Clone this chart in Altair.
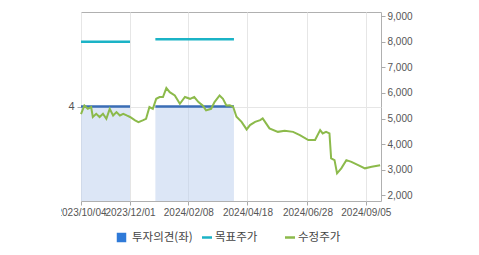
import altair as alt
import pandas as pd

# ---- data ----
price_dates = [
    "2023-10-04", "2023-10-08", "2023-10-12", "2023-10-16", "2023-10-18", "2023-10-22",
    "2023-10-26", "2023-10-30", "2023-11-03", "2023-11-07", "2023-11-11", "2023-11-15",
    "2023-11-19", "2023-11-23", "2023-11-27", "2023-12-01", "2023-12-07", "2023-12-11",
    "2023-12-16", "2023-12-20", "2023-12-24", "2023-12-28", "2024-01-01", "2024-01-05",
    "2024-01-09", "2024-01-13", "2024-01-17", "2024-01-23", "2024-01-29", "2024-02-04",
    "2024-02-10", "2024-02-15", "2024-02-20", "2024-02-25", "2024-02-29", "2024-03-06",
    "2024-03-10", "2024-03-16", "2024-03-20", "2024-03-24", "2024-03-28", "2024-04-01",
    "2024-04-05", "2024-04-11", "2024-04-17", "2024-04-21", "2024-04-27", "2024-05-03",
    "2024-05-06", "2024-05-14", "2024-05-24", "2024-06-01", "2024-06-11", "2024-06-19",
    "2024-06-29", "2024-07-07", "2024-07-13", "2024-07-16", "2024-07-20", "2024-07-24",
    "2024-07-26", "2024-07-30", "2024-08-02", "2024-08-07", "2024-08-13", "2024-08-19",
    "2024-08-27", "2024-09-04", "2024-09-12", "2024-09-22",
]
price_values = [
    5170, 5510, 5380, 5450, 5060, 5185,
    5060, 5185, 4990, 5380, 5120, 5250,
    5120, 5185, 5120, 5060, 4930, 4860,
    4930, 4990, 5450, 5380, 5770, 5840,
    5840, 6190, 6030, 5900, 5575, 5840,
    5770, 5840, 5640, 5510, 5320, 5380,
    5640, 5900, 5770, 5510, 5520, 5460,
    5070, 4870, 4575, 4745, 4870, 4940,
    5005, 4615, 4480, 4520, 4480, 4355,
    4160, 4160, 4550, 4420, 4480, 4420,
    3445, 3375, 2860, 3055, 3375, 3310,
    3180, 3055, 3115, 3180,
]

seg_start = ["2023-10-04", "2023-12-31"]
seg_end = ["2023-12-01", "2024-04-02"]
opinion = [4, 4]
target_price = [8000, 8100]

tick_dates = ["2023-10-04", "2023-12-01", "2024-02-08", "2024-04-18", "2024-06-28", "2024-09-05"]
end_date = "2024-09-23"
price_ticks = [2000, 3000, 4000, 5000, 6000, 7000, 8000, 9000]
opinion_ticks = [4]

legend_labels = ["투자의견(좌)", "목표주가", "수정주가"]

# ---- tables ----
price_df = pd.DataFrame({"date": pd.to_datetime(price_dates), "price": price_values})
seg_df = pd.DataFrame({
    "start": pd.to_datetime(seg_start),
    "end": pd.to_datetime(seg_end),
    "opinion": opinion,
    "target": target_price,
    "zero": [0] * len(opinion),
})
dummy = pd.DataFrame({"a": [0]})


def dt(s):
    t = pd.Timestamp(s)
    return alt.DateTime(year=t.year, month=t.month, date=t.day)


LABEL_FONT = "Liberation Sans"
x_scale = alt.Scale(domain=[dt(tick_dates[0]), dt(end_date)], nice=False)
x_axis = alt.Axis(
    values=[dt(d) for d in tick_dates], format="%Y/%m/%d", title=None,
    labelFont=LABEL_FONT, labelFontSize=10, labelColor="#555555",
    tickColor="#aaaaaa", tickSize=4, domain=False, grid=True, gridColor="#e6e6e6",
    labelPadding=2, labelFlush=False, labelOverlap=False,
)

left_scale = alt.Scale(domain=[0, 8], nice=False, zero=False)
left_axis = alt.Axis(
    orient="left", values=opinion_ticks, title=None, grid=True, gridColor="#e6e6e6",
    domain=False, tickSize=4, tickColor="#aaaaaa", labelColor="#555555",
    labelFont=LABEL_FONT, labelFontSize=11, labelPadding=3,
)
right_scale = alt.Scale(domain=[1780, 9160], nice=False, zero=False)
right_axis = alt.Axis(
    orient="right", values=price_ticks, title=None, grid=False,
    labelExpr="format(datum.value, ',')",
    domain=False, tickSize=4, tickColor="#aaaaaa", labelColor="#555555",
    labelFont=LABEL_FONT, labelFontSize=10, labelPadding=2,
)

area = alt.Chart(seg_df).mark_rect(color="#b9cded", opacity=0.5).encode(
    x=alt.X("start:T", scale=x_scale, axis=x_axis),
    x2="end:T",
    y=alt.Y("zero:Q", scale=left_scale, axis=left_axis),
    y2="opinion:Q",
)
op_line = alt.Chart(seg_df).mark_rule(color="#3a6db5", strokeWidth=2.5).encode(
    x=alt.X("start:T", scale=x_scale, axis=x_axis),
    x2="end:T",
    y=alt.Y("opinion:Q", scale=left_scale, axis=left_axis),
)
left_group = alt.layer(area, op_line)

target_line = alt.Chart(seg_df).mark_rule(color="#1bb3c6", strokeWidth=2.5).encode(
    x=alt.X("start:T", scale=x_scale, axis=x_axis),
    x2="end:T",
    y=alt.Y("target:Q", scale=right_scale, axis=right_axis),
)
price_line = alt.Chart(price_df).mark_line(color="#8cba4b", strokeWidth=2).encode(
    x=alt.X("date:T", scale=x_scale, axis=x_axis),
    y=alt.Y("price:Q", scale=right_scale, axis=right_axis),
)
right_group = alt.layer(target_line, price_line)

# white cover clipping the first x label like the reference
cover = alt.Chart(dummy).mark_rect(color="white").encode(
    x=alt.value(-81), x2=alt.value(-20), y=alt.value(192), y2=alt.value(212)
)

LY = 225.5
text_style = dict(align="left", baseline="middle", font="Noto Sans CJK KR", fontSize=11.5, color="#444444")
leg_sq = alt.Chart(dummy).mark_square(size=90, color="#2f7ad8", opacity=1).encode(
    x=alt.value(40.5), y=alt.value(LY))
leg_t1 = alt.Chart(dummy).mark_text(**text_style).encode(
    x=alt.value(51), y=alt.value(LY), text=alt.value(legend_labels[0]))
leg_r2 = alt.Chart(dummy).mark_rule(color="#1bb3c6", strokeWidth=2.5).encode(
    x=alt.value(121), x2=alt.value(131), y=alt.value(LY))
leg_t2 = alt.Chart(dummy).mark_text(**text_style).encode(
    x=alt.value(134), y=alt.value(LY), text=alt.value(legend_labels[1]))
leg_r3 = alt.Chart(dummy).mark_rule(color="#8cba4b", strokeWidth=2.5).encode(
    x=alt.value(204), x2=alt.value(214), y=alt.value(LY))
leg_t3 = alt.Chart(dummy).mark_text(**text_style).encode(
    x=alt.value(217), y=alt.value(LY), text=alt.value(legend_labels[2]))

chart = alt.layer(
    left_group, right_group, cover, leg_sq, leg_t1, leg_r2, leg_t2, leg_r3, leg_t3
).resolve_scale(y="independent").properties(
    width=300, height=189,
    autosize=alt.AutoSizeParams(type="none"),
    padding={"left": 81, "top": 12, "right": 98, "bottom": 54},
).configure_view(stroke="#b0b0b0", strokeWidth=1)

chart.save("out.html", embed_options={"renderer": "svg", "actions": False})
